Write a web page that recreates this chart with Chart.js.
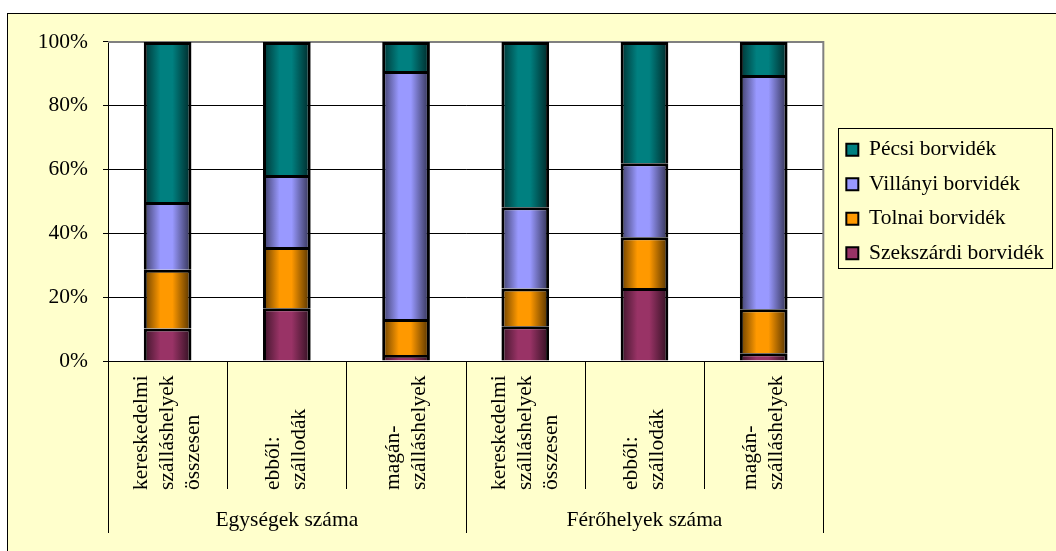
<!DOCTYPE html>
<html>
<head>
<meta charset="utf-8">
<script src="https://cdn.jsdelivr.net/npm/chart.js@4"></script>
<style>
  body { margin: 0; background: #fff; }
  #wrap { position: absolute; left: 7px; top: 13px; width: 1048px; height: 537px;
          background: #FFFFCC; border-left: 1px solid #000; border-top: 1px solid #000; }
</style>
</head>
<body>
<div id="wrap"><canvas id="myChart" width="1048" height="537"></canvas></div>
<script>
// categories (multi-line labels) and the two groups they belong to
const categories = [
  ['kereskedelmi', 'szálláshelyek', 'összesen'], ['ebből:', 'szállodák'], ['magán-', 'szálláshelyek'],
  ['kereskedelmi', 'szálláshelyek', 'összesen'], ['ebből:', 'szállodák'], ['magán-', 'szálláshelyek']
];
const groups = ['Egységek száma', 'Férőhelyek száma'];
const groupSize = 3;

// shares in percent
const szekszardi = [10.2, 16.5, 1.9, 10.9, 22.9, 2.4];
const tolnai     = [18.4, 19.2, 11.3, 11.8, 15.9, 13.8];
const villanyi   = [21.2, 22.6, 77.7, 25.5, 23.2, 73.4];
const pecsi      = [50.2, 41.7, 9.1, 51.8, 38.0, 10.4];

const yTicks = [0, 20, 40, 60, 80, 100];

const FONT = 'Liberation Serif';
Chart.defaults.font.family = FONT;
Chart.defaults.font.size = 21.5;
Chart.defaults.color = '#000';

const baseColors = ['#993366', '#FF9900', '#9999FF', '#008080'];

function shade(hex, f) {
  const n = parseInt(hex.slice(1), 16);
  const r = Math.round(((n >> 16) & 255) * f), g = Math.round(((n >> 8) & 255) * f), b = Math.round((n & 255) * f);
  return `rgb(${r},${g},${b})`;
}

// horizontal gradient like the excel bars (dark edges)
function barFill(base) {
  return ctx => {
    if (ctx.type !== 'data') return base;
    const x = ctx.chart.scales.x;
    if (!x || !x.width) return base;
    const cx = x.getPixelForValue(ctx.dataIndex);
    const w = x.width / categories.length * 0.8 * 0.5;
    const g = ctx.chart.ctx.createLinearGradient(cx - w / 2, 0, cx + w / 2, 0);
    g.addColorStop(0, shade(base, 0.4));
    g.addColorStop(0.35, base);
    g.addColorStop(0.6, base);
    g.addColorStop(1, shade(base, 0.3));
    return g;
  };
}

function ds(label, data, i) {
  return { label, data, backgroundColor: barFill(baseColors[i]), borderColor: '#000', borderWidth: 3 };
}

const chartDecor = {
  id: 'chartDecor',
  afterLayout(chart) {
    // a little gap between plot and legend, as in the original
    chart.legend.left += 10;
    chart.legend.right += 10;
  },
  beforeDraw(chart) {
    const a = chart.chartArea, c = chart.ctx;
    c.save();
    c.fillStyle = '#fff';
    c.fillRect(a.left, a.top, a.right - a.left, a.bottom - a.top);
    c.restore();
  },
  beforeDatasetsDraw(chart) {
    const a = chart.chartArea, c = chart.ctx;
    c.save();
    c.strokeStyle = '#808080';
    c.lineWidth = 2;
    c.beginPath();
    c.moveTo(a.left, a.top); c.lineTo(a.right, a.top); c.lineTo(a.right, a.bottom);
    c.stroke();
    c.restore();
  },
  afterDraw(chart) {
    const c = chart.ctx, x = chart.scales.x;
    const n = categories.length, step = (x.right - x.left) / n;
    c.save();
    // separators
    c.strokeStyle = '#000';
    c.lineWidth = 1;
    for (let i = 0; i <= n; i++) {
      const px = Math.round(x.left + i * step) + 0.5;
      const len = i % groupSize === 0 ? 172 : 128;
      c.beginPath();
      c.moveTo(px, x.top);
      c.lineTo(px, x.top + len);
      c.stroke();
    }
    // rotated category labels, starting at the bottom
    c.fillStyle = '#000';
    c.font = `21.5px "${FONT}"`;
    c.textAlign = 'left';
    c.textBaseline = 'middle';
    categories.forEach((lines, i) => {
      const cx = x.getPixelForValue(i);
      lines.forEach((t, j) => {
        const lx = cx + (j - (lines.length - 1) / 2) * 26;
        c.save();
        c.translate(lx, x.top + 129);
        c.rotate(-Math.PI / 2);
        c.fillText(t, 0, 0);
        c.restore();
      });
    });
    // group labels
    c.textAlign = 'center';
    groups.forEach((g, k) => {
      const gx = x.left + (k * groupSize + groupSize / 2) * step;
      c.fillText(g, gx, x.top + 159);
    });
    // legend frame
    const hb = chart.legend.legendHitBoxes;
    if (hb && hb.length) {
      const l = Math.min(...hb.map(h => h.left)) - 8;
      const r = Math.max(...hb.map(h => h.left + h.width)) + 8;
      const t = Math.min(...hb.map(h => h.top)) - 11;
      const b = Math.max(...hb.map(h => h.top + h.height)) + 4;
      c.strokeStyle = '#000';
      c.lineWidth = 1;
      c.strokeRect(Math.round(l) + 0.5, Math.round(t) + 0.5, Math.round(r - l), Math.round(b - t));
    }
    c.restore();
  }
};

new Chart('myChart', {
  type: 'bar',
  data: {
    labels: categories,
    datasets: [
      ds('Szekszárdi borvidék', szekszardi, 0),
      ds('Tolnai borvidék', tolnai, 1),
      ds('Villányi borvidék', villanyi, 2),
      ds('Pécsi borvidék', pecsi, 3)
    ]
  },
  options: {
    responsive: false,
    animation: false,
    layout: { padding: { left: 28, top: 27, right: 12, bottom: 0 } },
    datasets: { bar: { categoryPercentage: 0.8, barPercentage: 0.5 } },
    plugins: {
      tooltip: { enabled: false },
      legend: {
        position: 'right',
        fullSize: false,
        reverse: true,
        labels: {
          boxWidth: 12, boxHeight: 12, padding: 13, color: '#000', font: { size: 21.5 },
          generateLabels: chart => Chart.defaults.plugins.legend.labels.generateLabels(chart)
            .map(l => Object.assign(l, { fillStyle: baseColors[l.datasetIndex], lineWidth: 2 }))
        }
      }
    },
    scales: {
      x: {
        stacked: true,
        grid: { display: false },
        border: { color: '#000', width: 1 },
        ticks: { display: false },
        afterFit: s => { s.height = 190; }
      },
      y: {
        stacked: true,
        min: 0,
        max: 100,
        afterBuildTicks: s => { s.ticks = yTicks.map(v => ({ value: v })); },
        afterFit: s => { s.width = 72; },
        grid: { color: '#000', lineWidth: 1, tickLength: 5 },
        border: { color: '#000', width: 1 },
        ticks: { padding: 15, callback: v => v + '%' }
      }
    }
  },
  plugins: [chartDecor]
});
</script>
</body>
</html>
